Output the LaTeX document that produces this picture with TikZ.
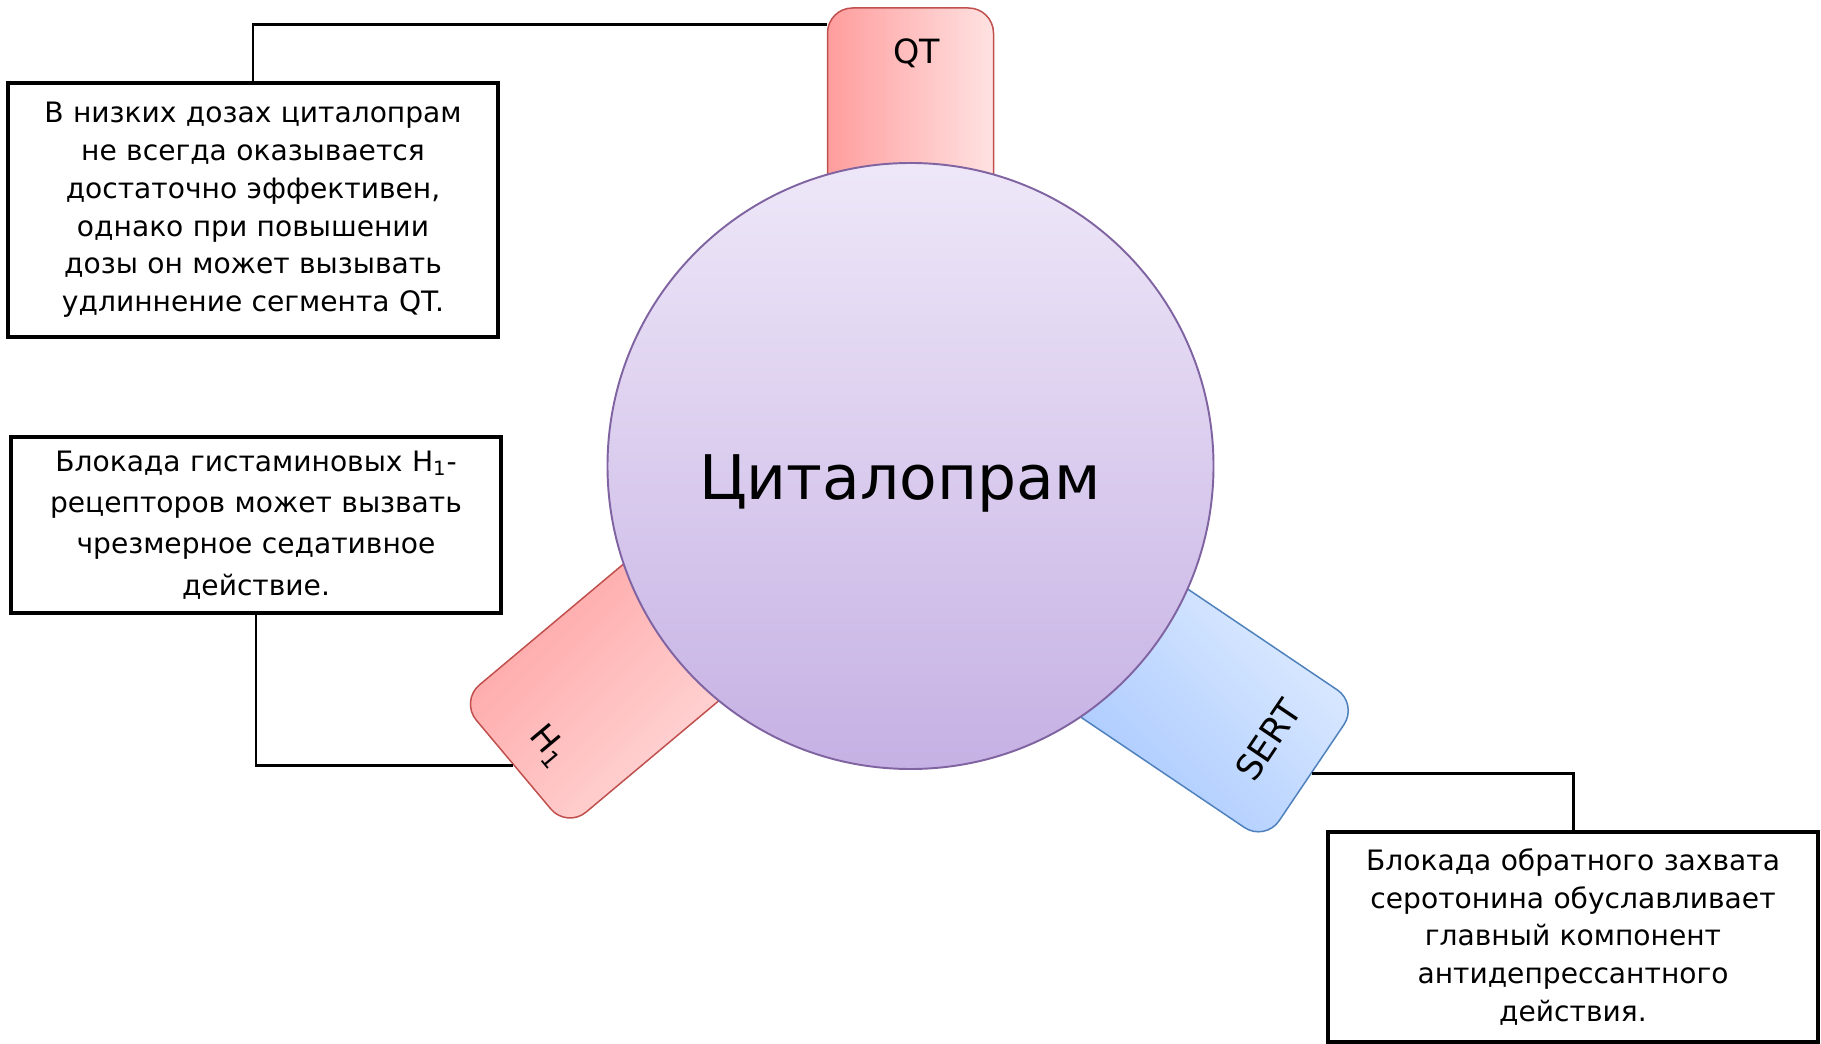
\documentclass[tikz,border=0pt]{standalone}
\usepackage{fontspec}
\setmainfont{DejaVu Sans}
\usetikzlibrary{calc}

\definecolor{qtdark}{HTML}{FF9D9D}
\definecolor{qtlight}{HTML}{FFE2E2}
\definecolor{redline}{HTML}{C0504D}
\definecolor{sertdark}{HTML}{9DC2FF}
\definecolor{sertlight}{HTML}{E6F0FF}
\definecolor{blueline}{HTML}{4F81BD}
\definecolor{balltop}{HTML}{EEE7F8}
\definecolor{ballbottom}{HTML}{C6B1E4}
\definecolor{ballline}{HTML}{8064A2}

\begin{document}
\begin{tikzpicture}[x=0.2mm, y=-0.2mm,
    receptor/.style={draw=#1, line width=0.85pt, rounded corners=5mm,
                     minimum height=33.2mm, inner sep=0pt},
    infobox/.style={draw, line width=2pt, inner sep=0pt, align=center,
                    text width=94mm, minimum width=98mm},
    link/.style={line width=1.7pt},
    boxtext/.style={font=\fontsize{16}{21.5}\selectfont}]
    \useasboundingbox (0,0) rectangle (1821,1044);

    % receptor tabs behind the drug
    \node[receptor=redline, minimum width=61.6mm, rotate=90,
          left color=qtdark, right color=qtlight] (qt) at (910.5,162) {};
    \node[receptor=blueline, minimum width=70.8mm, rotate=-34,
          top color=sertlight, bottom color=sertdark, shading angle=-45] (sert) at (1164.8,673.7) {};
    \node[receptor=redline, minimum width=69.2mm, rotate=220,
          top color=qtdark, bottom color=qtlight, shading angle=45] (h1) at (646.1,653.4) {};

    % the drug itself
    \node[circle, draw=ballline, line width=1.1pt, minimum size=121.2mm,
          top color=balltop, bottom color=ballbottom] (drug) at (910.5,466) {};
    \node[anchor=base, font=\fontsize{35}{40}\selectfont] (name) at (900,500) {Циталопрам};

    % tab labels
    \node[font=\fontsize{19}{22}\selectfont] (qtlabel) at (917,53) {QT};
    \node[font=\fontsize{20}{22}\selectfont, rotate=56] (sertlabel) at (1268,740) {SERT};
    \node[font=\fontsize{19}{22}\selectfont, rotate=-50] (hlabel) at (548,746) {H\textsubscript{1}};

    % text boxes
    \node[infobox, boxtext, minimum height=50.8mm] (dose) at (253,210)
        {В низких дозах циталопрам\\ не всегда оказывается\\ достаточно эффективен,\\
         однако при повышении\\ дозы он может вызывать\\ удлиннение сегмента QT.};
    \node[infobox, font=\fontsize{16}{23.5}\selectfont, minimum height=35.2mm] (sedate) at (256,525)
        {Блокада гистаминовых H\textsubscript{1}-\\ рецепторов может вызвать\\ чрезмерное седативное\\ действие.};
    \node[infobox, boxtext, minimum height=42mm] (reuptake) at (1573,937)
        {Блокада обратного захвата\\ серотонина обуславливает\\ главный компонент\\
         антидепрессантного\\ действия.};

    % connectors
    \draw[link] (dose.north) |- ([yshift=-3.4mm]qt.north east);
    \draw[link] (sedate.south) |- (h1.east);
    \draw[link] (sert.east) -| (reuptake.north);
\end{tikzpicture}
\end{document}
